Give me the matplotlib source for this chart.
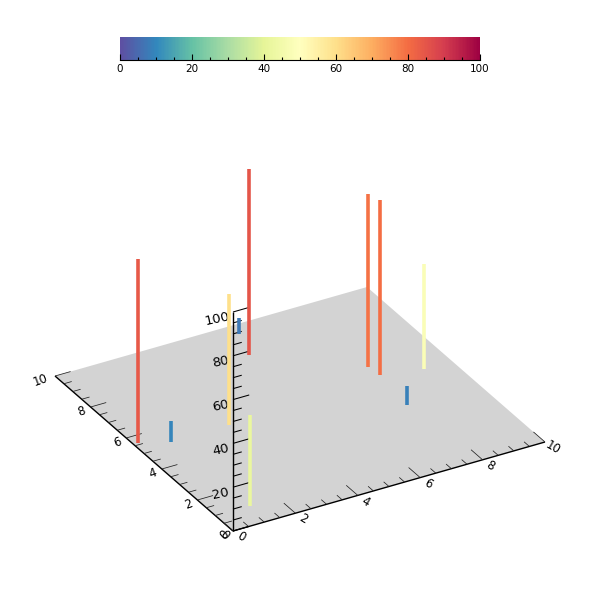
import numpy as np
import matplotlib as mpl
mpl.use('Agg')
import matplotlib.pyplot as plt
from matplotlib.patches import Polygon

# rods standing on the plane: position and height
rod_x = [0.15, 0.97, 2.85, 5.60, 5.26, 1.11, 7.80, 7.87, 9.11, 7.69]
rod_y = [5.59, 5.20, 5.20, 9.49, 8.33, 0.98, 6.10, 5.54, 5.22, 3.71]
rod_z = [84, 9.6, 60, 7.5, 85, 41.5, 79, 80, 48, 8.7]

xy_ticks = [0, 2, 4, 6, 8, 10]
z_ticks = [0, 20, 40, 60, 80, 100]
cb_ticks = [0, 20, 40, 60, 80, 100]


# orthographic view, result in figure pixels
def project(x, y, z=0):
    x, y, z = np.asarray(x, float), np.asarray(y, float), np.asarray(z, float)
    return 233 + 31.2*x - 17.8*y, 531 - 8.9*x - 15.5*y - 2.19*z


def seg(p0, p1, lw=1.0, color='k', zorder=3):
    px, py = project(*zip(p0, p1))
    ax.plot(px, py, color=color, lw=lw, solid_capstyle='butt', zorder=zorder)


fig = plt.figure(figsize=(6, 6), dpi=100)
ax = fig.add_axes([0, 0, 1, 1])
ax.set_xlim(0, 600)
ax.set_ylim(600, 0)
ax.set_axis_off()

cx, cy = project([0, 10, 10, 0], [0, 0, 10, 10])
ax.add_patch(Polygon(np.c_[cx, cy], closed=True, fc='lightgray', ec='none', zorder=1))

seg((0, 0, 0), (10, 0, 0))
seg((0, 0, 0), (0, 10, 0))
seg((0, 0, 0), (0, 0, 100))

# ticks: every 0.5 on x and y, every 5 on z
for t in np.arange(0, 10.01, 0.5):
    major = t in xy_ticks
    seg((t, 0, 0), (t, 0.65 if major else 0.3, 0), lw=0.55, color='#222222')
    seg((0, t, 0), (0.5 if major else 0.25, t, 0), lw=0.55, color='#222222')
for t in np.arange(0, 100.01, 5):
    major = t in z_ticks
    seg((0, 0, t), (0.52 if major else 0.28, 0, t), lw=0.75)

for t in xy_ticks:
    px, py = project(t, 0)
    ax.text(px + 8, py + 6, str(t), fontsize=8.5, rotation=-30,
            ha='center', va='center', rotation_mode='anchor', zorder=4)
    px, py = project(0, t)
    off = 6 if t == 10 else 0
    ax.text(px - 9 - off, py + 4, str(t), fontsize=8.5, rotation=20 if t else -45,
            ha='center', va='center', rotation_mode='anchor', zorder=4)
for t in z_ticks:
    px, py = project(0, 0, t)
    off = 3 if t == 100 else 0
    if t == 0:
        # sits on top of the y axis zero
        ax.text(px - 9, py + 4, str(t), fontsize=8.5, rotation=45,
                ha='center', va='center', rotation_mode='anchor', zorder=4)
    else:
        ax.text(px - 12.5 - off, py + 6.5, str(t), fontsize=9.5, rotation=12,
                ha='center', va='center', rotation_mode='anchor', zorder=4)

# rods coloured by their height
cmap = plt.get_cmap('Spectral_r')
norm = mpl.colors.Normalize(vmin=0, vmax=100)
for x, y, z in zip(rod_x, rod_y, rod_z):
    seg((x, y, 0), (x, y, z), lw=2.6, color=cmap(norm(z)), zorder=5)

cax = fig.add_axes([0.2, 0.9, 0.6, 23/600])
cb = fig.colorbar(mpl.cm.ScalarMappable(norm=norm, cmap=cmap), cax=cax, orientation='horizontal')
cb.outline.set_visible(False)
cb.set_ticks(np.arange(0, 101, 5), minor=True)
cb.set_ticks(cb_ticks)
cax.spines['bottom'].set_visible(True)
cax.spines['bottom'].set_linewidth(0.8)
cax.tick_params(which='major', direction='in', length=4.5, width=0.8, labelsize=7.5, pad=3)
cax.tick_params(which='minor', direction='in', length=2.2, width=0.8)

fig.savefig('out.png', dpi=100)
